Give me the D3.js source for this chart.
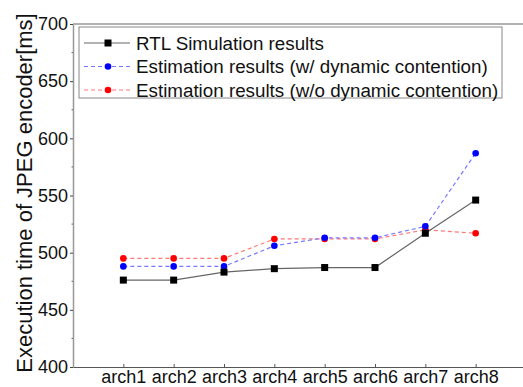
<!DOCTYPE html>
<html>
<head>
<meta charset="utf-8">
<script src="https://cdn.jsdelivr.net/npm/d3@7"></script>
<style>
  body { margin: 0; background: #fff; }
  text { font-family: "Liberation Sans", Arial, sans-serif; fill: #111; }
</style>
</head>
<body>
<div id="chart"></div>
<script>
const categories = ["arch1", "arch2", "arch3", "arch4", "arch5", "arch6", "arch7", "arch8"];
const rtlValues = [476, 476, 483, 486, 487, 487, 517, 546];
const dynValues = [488, 488, 488, 506, 513, 513, 523, 587];
const noDynValues = [495, 495, 495, 512, 512, 512, 520, 517];
const yTicks = [400, 450, 500, 550, 600, 650, 700];
const seriesNames = [
  "RTL Simulation results",
  "Estimation results (w/ dynamic contention)",
  "Estimation results (w/o dynamic contention)"
];

const width = 523, height = 387;
const svg = d3.select("#chart").append("svg").attr("width", width).attr("height", height);

const plotLeft = 73, plotTop = 24, plotBottom = 367;
// x runs 0..9 so that arch1..arch8 sit at 1..8; the right end falls just outside the image
const x = d3.scaleLinear().domain([0, categories.length + 1]).range([plotLeft, 526]);
const y = d3.scaleLinear().domain([400, 700]).range([plotBottom, plotTop]);

const axisColor = "#999";

// top frame line
svg.append("line")
  .attr("x1", plotLeft).attr("x2", width)
  .attr("y1", plotTop).attr("y2", plotTop)
  .attr("stroke", axisColor).attr("stroke-width", 1.5);

// y axis
const yAxis = d3.axisLeft(y).tickValues(yTicks).tickSize(3).tickPadding(2).tickSizeOuter(0);
const yg = svg.append("g").attr("transform", `translate(${plotLeft},0)`).call(yAxis);
yg.select(".domain").attr("stroke", axisColor).attr("stroke-width", 1.5);
yg.selectAll(".tick line").attr("stroke", "#444");
yg.selectAll("text").style("font-size", "18px").attr("fill", "#111");
// minor ticks
svg.append("g").selectAll("line")
  .data(d3.range(425, 700, 50))
  .enter().append("line")
  .attr("x1", plotLeft - 1.5).attr("x2", plotLeft)
  .attr("y1", (d) => y(d)).attr("y2", (d) => y(d))
  .attr("stroke", "#666");

// x axis
const xAxis = d3.axisBottom(x)
  .tickValues(d3.range(1, categories.length + 1))
  .tickFormat((d) => categories[d - 1])
  .tickSizeInner(-3).tickSizeOuter(0).tickPadding(3);
const xg = svg.append("g").attr("transform", `translate(0,${plotBottom})`).call(xAxis);
xg.select(".domain").attr("stroke", "#555").attr("stroke-width", 1.2);
xg.selectAll(".tick line").attr("stroke", "#555");
xg.selectAll("text").style("font-size", "18px").attr("fill", "#111");

// y label
svg.append("text")
  .attr("transform", `translate(32,193) rotate(-90)`)
  .attr("text-anchor", "middle")
  .style("font-size", "22px")
  .text("Execution time of JPEG encoder[ms]");

const series = [
  { name: seriesNames[0], values: rtlValues, line: "#666", marker: "#000", dash: null, shape: "square" },
  { name: seriesNames[1], values: dynValues, line: "#7878ff", marker: "#0000ff", dash: "4,3", shape: "circle" },
  { name: seriesNames[2], values: noDynValues, line: "#ff7878", marker: "#ff0000", dash: "4,3", shape: "circle" }
];

const line = d3.line().x((d, i) => x(i + 1)).y((d) => y(d));

function drawMarker(g, s, cx, cy) {
  if (s.shape === "square") {
    g.append("rect").attr("x", cx - 3.5).attr("y", cy - 3.5).attr("width", 7).attr("height", 7).attr("fill", s.marker);
  } else {
    g.append("circle").attr("cx", cx).attr("cy", cy).attr("r", 3.3).attr("fill", s.marker);
  }
}

// draw order: red, blue, black on top
[series[2], series[1], series[0]].forEach((s) => {
  const g = svg.append("g");
  g.append("path").datum(s.values)
    .attr("d", line).attr("fill", "none")
    .attr("stroke", s.line).attr("stroke-width", 1.2)
    .attr("stroke-dasharray", s.dash);
  s.values.forEach((v, i) => drawMarker(g, s, x(i + 1), y(v)));
});

// legend
const lg = svg.append("g");
lg.append("rect").attr("x", 79).attr("y", 27).attr("width", 423).attr("height", 71)
  .attr("fill", "#fff").attr("stroke", "#888").attr("stroke-width", 1);
series.forEach((s, i) => {
  const ly = 43 + i * 23.5;
  lg.append("line").attr("x1", 84).attr("x2", 130).attr("y1", ly).attr("y2", ly)
    .attr("stroke", s.line).attr("stroke-width", 1.2).attr("stroke-dasharray", s.dash);
  drawMarker(lg, s, 108, ly);
  lg.append("text").attr("x", 136).attr("y", ly).attr("dy", "0.35em")
    .style("font-size", "18.8px").text(s.name);
});
</script>
</body>
</html>
